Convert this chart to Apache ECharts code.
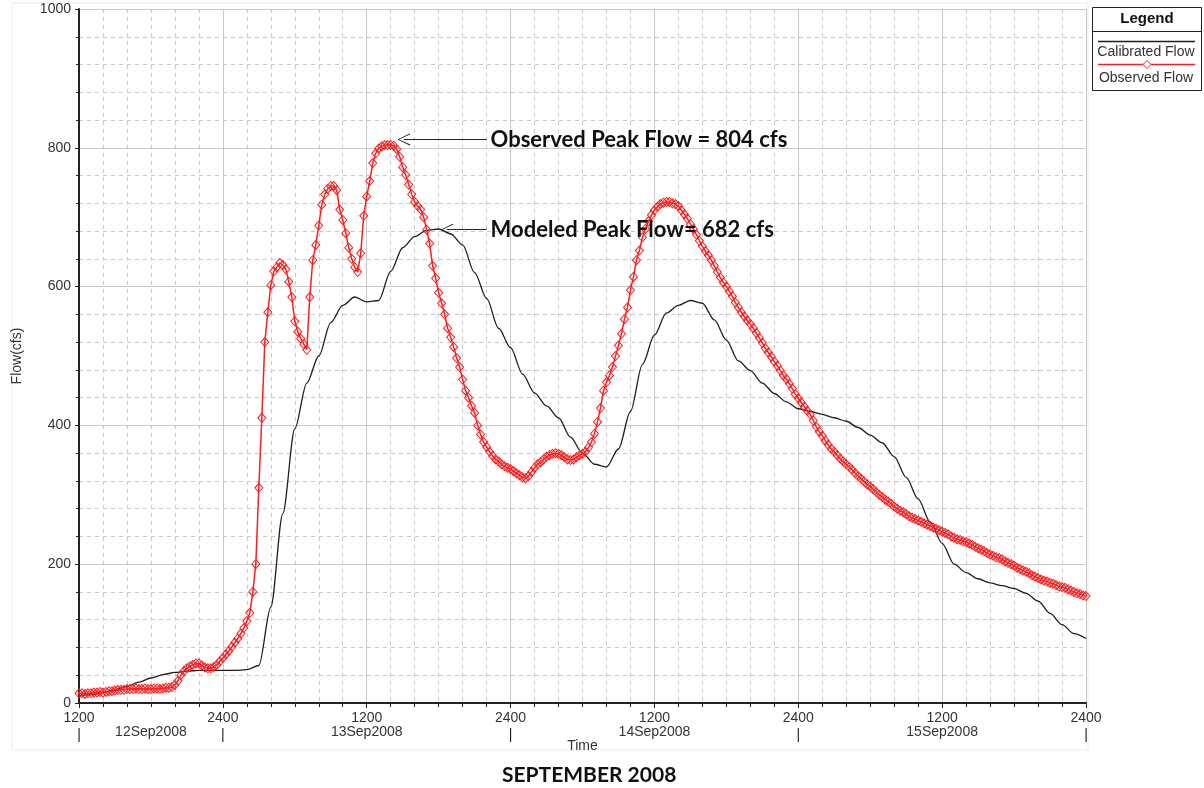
<!DOCTYPE html>
<html>
<head>
<meta charset="utf-8">
<script src="https://cdn.jsdelivr.net/npm/echarts@6/dist/echarts.min.js"></script>
<style>
html,body{margin:0;padding:0;background:#fff;}
#c{width:1204px;height:788px;}
</style>
</head>
<body>
<div id="c"></div>
<script>
// Hours from 12Sep2008 1200; axis spans 84 hours
const xTickLabels = ['1200','2400','1200','2400','1200','2400','1200','2400']; // every 12 h
const dayLabelHours = [6, 24, 48, 72];
const dayLabelTexts = ['12Sep2008','13Sep2008','14Sep2008','15Sep2008'];
const dayBoundaryHours = [0, 12, 36, 60, 84];

// Calibrated (modeled) flow, hourly, cfs
const calibratedStepHours = 1;
const calibrated = [
 10,12,15,19,24,30,36,41,44,46,
 47,47,47,47,48,54,138,273,395,461,
 500,548,573,585,578,580,622,656,672,681,
 683,676,660,620,583,540,512,474,447,428,
 411,383,360,344,340,366,420,488,530,562,
 573,580,576,552,523,493,479,461,446,434,
 424,420,416,411,406,397,386,375,355,325,
 294,261,230,200,188,179,173,169,165,158,
 147,129,113,100,93
];

// Observed flow, 15-minute, cfs
const observedStepHours = 0.25;
const observed = [
 14,14,13,14, 14,15,15,16, 15,16,17,17, 18,19,19,19, 20,20,20,21,
 20,20,21,20, 20,21,21,20, 21,22,22,23, 26,32,40,46, 50,53,55,57,
 57,54,51,50, 50,52,55,60, 65,70,75,81, 87,93,100,108, 118,130,160,200,
 310,411,520,563, 602,622,628,634, 631,625,607,585, 550,535,525,517, 509,585,638,660,
 688,718,733,741, 745,745,739,711, 696,677,656,640, 628,621,648,702, 730,752,778,792,
 799,802,804,804, 804,803,798,787, 772,761,747,733, 722,716,711,700, 682,662,630,612,
 591,576,560,540, 527,513,497,484, 466,450,440,428, 418,400,387,376, 369,362,356,351,
 348,344,341,339, 337,334,331,328, 325,324,327,333, 339,344,347,351, 355,357,359,360,
 359,357,354,351, 350,351,354,357, 359,362,368,376, 388,405,425,450, 462,472,484,500,
 515,532,553,570, 595,614,638,652, 671,683,694,703, 710,715,719,721, 722,722,720,719,
 716,710,704,698, 690,683,675,666, 658,651,645,638, 630,621,613,606, 600,593,586,577,
 570,563,557,551, 546,540,533,526, 519,511,505,499, 492,486,479,472, 467,460,453,445,
 439,433,427,421, 416,407,398,391, 385,378,372,366, 362,357,352,348, 344,340,336,331,
 327,323,319,315, 312,308,304,300, 297,293,290,287, 283,280,277,275, 272,269,267,265,
 263,261,259,257, 255,253,251,249, 247,245,243,240, 238,236,235,233, 232,230,228,225,
 223,221,219,216, 214,212,210,209, 207,204,202,200, 198,195,193,191, 189,187,184,182,
 180,178,176,175, 173,172,170,168, 167,166,164,162, 160,158,157,155, 154
];

// Annotations: [hour, flow] of arrow tip, hour of arrow tail
const obsPeakText = 'Observed Peak Flow = 804 cfs';
const obsArrowTip = [27.1, 812];
const modPeakText = 'Modeled Peak Flow= 682 cfs';
const modArrowTip = [30.7, 682];
const arrowTailHour = 34.0;

const RED = '#ff1c1c';
const GRID = '#c8c8c8';
const LABEL_FONT = '"Liberation Sans", Arial, sans-serif';
const ANN_FONT = 'Lato, "Noto Sans", sans-serif';
const arrowPath = 'path://M0,0 L6,12 L5.1,12.6 L0,1.6 L-5.1,12.6 L-6,12 Z';

const chart = echarts.init(document.getElementById('c'), null, {renderer:'canvas'});

const annLabel = (txt) => ({
  show: true, position: 'end', distance: 4, formatter: txt,
  color: '#111', fontSize: 22, fontWeight: 'bold', fontFamily: ANN_FONT
});

const option = {
  animation: false,
  backgroundColor: '#fff',
  title: {
    text: 'SEPTEMBER 2008', left: 497, top: 760,
    textStyle: {fontFamily: ANN_FONT, fontWeight: 'bold', fontSize: 21, color: '#111'}
  },
  grid: {left: 79, right: 118, top: 9, bottom: 85, containLabel: false},
  xAxis: [{
    type: 'value', min: 0, max: 84, interval: 12,
    name: 'Time', nameLocation: 'middle', nameGap: 36,
    nameTextStyle: {fontFamily: LABEL_FONT, fontSize: 14, color: '#333'},
    axisLine: {show: true, onZero: false, lineStyle: {color: '#222', width: 2}},
    axisTick: {show: true, length: 5, lineStyle: {color: '#222'}},
    minorTick: {show: true, splitNumber: 6, length: 4, lineStyle: {color: '#222'}},
    splitLine: {show: true, lineStyle: {color: GRID, width: 1}},
    minorSplitLine: {show: true, lineStyle: {color: GRID, width: 1, type: [4, 4]}},
    axisLabel: {
      margin: 8, fontFamily: LABEL_FONT, fontSize: 14, color: '#333',
      showMinLabel: true, showMaxLabel: true,
      formatter: (v) => xTickLabels[Math.round(v / 12)] || ''
    }
  }, {
    type: 'value', min: 0, max: 84, interval: 6, position: 'bottom', offset: 0,
    axisLine: {show: false}, axisTick: {show: false}, splitLine: {show: false},
    axisLabel: {
      margin: 22, fontFamily: LABEL_FONT, fontSize: 14, color: '#333',
      showMinLabel: true, showMaxLabel: true,
      formatter: (v) => {
        const di = dayLabelHours.indexOf(v);
        if (di >= 0) return dayLabelTexts[di];
        if (dayBoundaryHours.indexOf(v) >= 0) return '{b||}';
        return '';
      },
      rich: {b: {fontFamily: LABEL_FONT, fontSize: 14, color: '#222', padding: [3, 0, 0, 0]}}
    }
  }],
  yAxis: {
    type: 'value', min: 0, max: 1000, interval: 200,
    name: 'Flow(cfs)', nameLocation: 'middle', nameGap: 55, nameRotate: 90,
    nameTextStyle: {fontFamily: LABEL_FONT, fontSize: 14, color: '#333'},
    axisLine: {show: true, lineStyle: {color: '#222', width: 2}},
    axisTick: {show: true, length: 4, lineStyle: {color: '#222'}},
    minorTick: {show: true, splitNumber: 5, length: 3, lineStyle: {color: '#222'}},
    splitLine: {show: true, lineStyle: {color: GRID, width: 1}},
    minorSplitLine: {show: true, lineStyle: {color: GRID, width: 1, type: [4, 4]}},
    axisLabel: {margin: 8, fontFamily: LABEL_FONT, fontSize: 14, color: '#333',
      formatter: (v) => String(v)}
  },
  series: [{
    name: 'Calibrated Flow', type: 'line', xAxisIndex: 0,
    data: calibrated.map((v, i) => [i * calibratedStepHours, v]),
    showSymbol: false, smooth: 0.3, smoothMonotone: 'x',
    lineStyle: {color: '#1e1e1e', width: 1.3},
    itemStyle: {color: '#1e1e1e'},
    z: 3,
    markLine: {
      silent: true, animation: false,
      symbol: [arrowPath, 'none'], symbolSize: [12, 13],
      lineStyle: {color: '#222', width: 1, type: 'solid'},
      label: annLabel(modPeakText),
      data: [[{coord: modArrowTip}, {coord: [arrowTailHour, modArrowTip[1]]}]]
    }
  }, {
    name: 'Observed Flow', type: 'line', xAxisIndex: 0,
    data: observed.map((v, i) => [i * observedStepHours, v]),
    showSymbol: true, showAllSymbol: true, symbol: 'diamond', symbolSize: [8, 9],
    lineStyle: {color: RED, width: 1.5},
    itemStyle: {color: 'rgba(255,255,255,0)', borderColor: RED, borderWidth: 1},
    z: 4,
    markLine: {
      silent: true, animation: false,
      symbol: [arrowPath, 'none'], symbolSize: [12, 13],
      lineStyle: {color: '#222', width: 1, type: 'solid'},
      label: annLabel(obsPeakText),
      data: [[{coord: obsArrowTip}, {coord: [arrowTailHour, obsArrowTip[1]]}]]
    }
  }],
  graphic: [
    {type: 'rect', silent: true, z: -10, shape: {x: 12, y: 3, width: 1076, height: 747},
     style: {fill: 'none', stroke: '#ececec', lineWidth: 1}},
    {type: 'rect', shape: {x: 1092.5, y: 7.5, width: 109, height: 83},
     style: {fill: '#fff', stroke: '#222', lineWidth: 1}},
    {type: 'line', shape: {x1: 1092.5, y1: 31.5, x2: 1201.5, y2: 31.5},
     style: {stroke: '#222', lineWidth: 1}},
    {type: 'text', x: 1147, y: 19, style: {text: 'Legend', align: 'center', verticalAlign: 'middle',
      font: 'bold 15px "Liberation Sans", Arial, sans-serif', fill: '#111'}},
    {type: 'line', shape: {x1: 1098, y1: 41.5, x2: 1195, y2: 41.5},
     style: {stroke: '#1e1e1e', lineWidth: 1.3}},
    {type: 'text', x: 1146, y: 52, style: {text: 'Calibrated Flow', align: 'center', verticalAlign: 'middle',
      font: '14px "Liberation Sans", Arial, sans-serif', fill: '#333'}},
    {type: 'line', shape: {x1: 1098, y1: 64.5, x2: 1195, y2: 64.5},
     style: {stroke: RED, lineWidth: 1.5}},
    {type: 'polygon', shape: {points: [[1147, 60.5], [1151, 64.5], [1147, 68.5], [1143, 64.5]]},
     style: {fill: '#fff', stroke: RED, lineWidth: 1}},
    {type: 'text', x: 1146, y: 78, style: {text: 'Observed Flow', align: 'center', verticalAlign: 'middle',
      font: '14px "Liberation Sans", Arial, sans-serif', fill: '#333'}}
  ]
};
chart.setOption(option);
</script>
</body>
</html>
